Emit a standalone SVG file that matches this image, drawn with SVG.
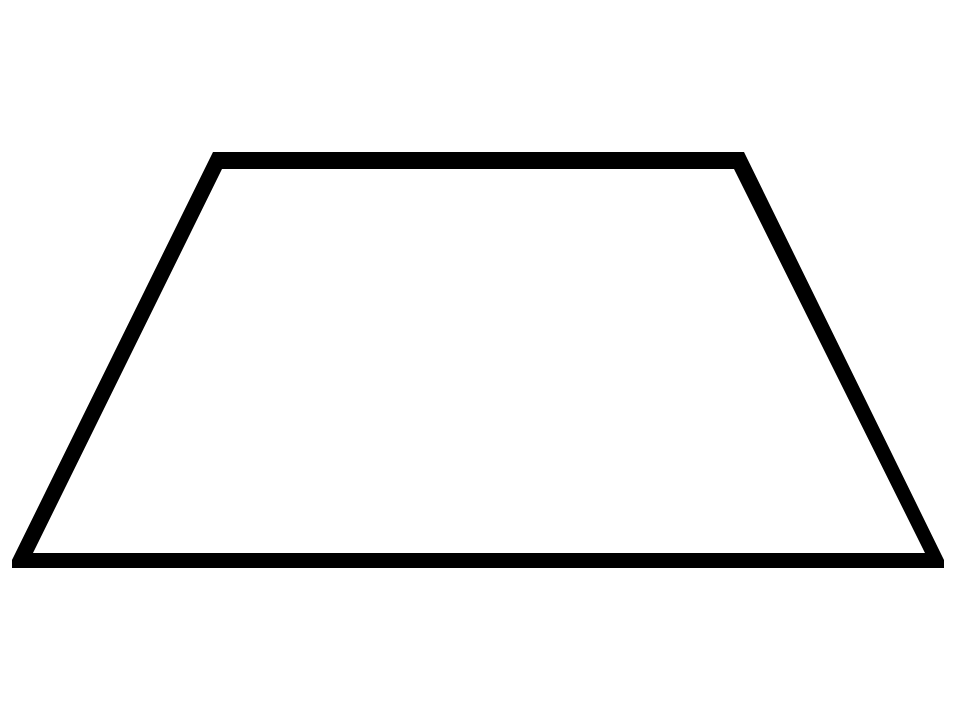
<svg xmlns="http://www.w3.org/2000/svg" width="957" height="718" viewBox="0 0 957 718">
<style>.edge{fill:#000;fill-rule:evenodd;stroke:none}</style>
<rect width="957" height="718" fill="#fff"/>
<g id="trapezoid">
<path class="edge" d="M213,152 L744,152 L944,560 L944,568 L12,568 L12,560 Z M222,169 L734,169 L925,553 L33,553 Z"/>
</g>
</svg>
